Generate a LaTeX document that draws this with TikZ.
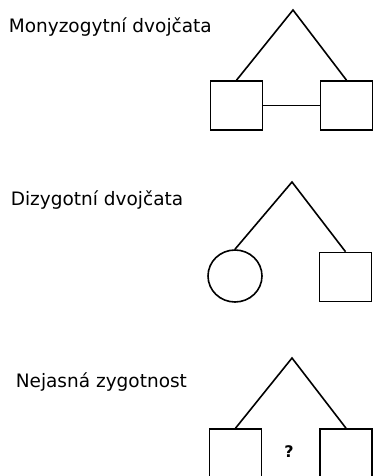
\documentclass[tikz,border=0pt]{standalone}
\usepackage{fontspec}
\setmainfont{DejaVu Sans}
\usetikzlibrary{shapes.geometric}
\begin{document}
\begin{tikzpicture}[x=1pt,y=-1pt,
  line width=1.6pt,
  caption/.style={anchor=base west,inner sep=0pt,font=\fontsize{18.5}{20}\selectfont},
  male/.style={draw,rectangle,inner sep=0pt,minimum width=52pt,minimum height=49pt},
  female/.style={draw,ellipse,inner sep=0pt,minimum width=54pt,minimum height=52pt},
  twinleg/.style={draw,line join=miter}]
\useasboundingbox (0,0) rectangle (373,476);
\clip (0,0) rectangle (373,476);
\fill[white] (0,0) rectangle (373,476);

% monozygotic twins
\node[caption] (t1) at (8,33) {Monyzogytní dvojčata};
\coordinate (a1) at (293,10);
\node[male] (m1l) at (236.5,105.5) {};
\node[male] (m1r) at (346.5,105.5) {};
\draw[twinleg] (m1l.north) -- (a1) -- (m1r.north);
\draw (m1l.east) -- (m1r.west);

% dizygotic twins
\node[caption] (t2) at (10,205) {Dizygotní dvojčata};
\coordinate (a2) at (292,182);
\node[female] (f2l) at (235,276) {};
\node[male] (m2r) at (345.5,277) {};
\draw[twinleg] (f2l.north) -- (a2) -- (m2r.north);

% unknown zygosity
\node[caption] (t3) at (15,387) {Nejasná zygotnost};
\coordinate (a3) at (292,358);
\node[male,minimum height=80pt] (m3l) at (235.5,469) {};
\node[male,minimum height=80pt] (m3r) at (346,469) {};
\draw[twinleg] (m3l.north) -- (a3) -- (m3r.north);
\node[font=\bfseries\fontsize{16}{17}\selectfont,inner sep=0pt] (q3) at (289,452) {?};
\end{tikzpicture}
\end{document}
